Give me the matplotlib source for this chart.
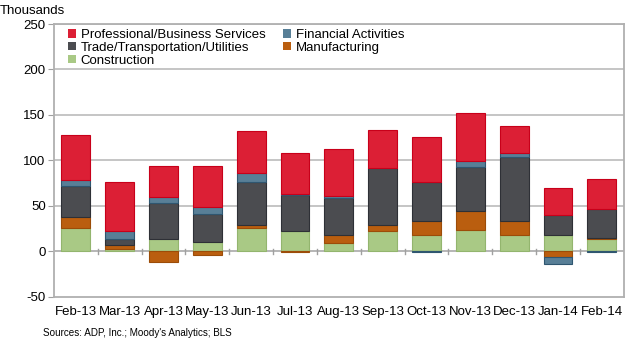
import numpy as np
import matplotlib.pyplot as plt
from matplotlib.patches import Patch

plt.rcParams['font.family'] = ['Liberation Sans', 'DejaVu Sans']

months = ["Feb-13", "Mar-13", "Apr-13", "May-13", "Jun-13", "Jul-13", "Aug-13",
          "Sep-13", "Oct-13", "Nov-13", "Dec-13", "Jan-14", "Feb-14"]

construction = [26, 3, 13, 10.6, 26, 22.3, 8.8, 22.3, 17.5, 23, 17.5, 18, 13.1]
manufacturing = [12, 4, -11.6, -4.4, 2.4, -1, 8.7, 7, 15.3, 21.5, 16, -6.2, 1.9]
trade = [34, 7, 40.5, 30.5, 48, 40, 41.5, 62.8, 43.5, 48.5, 70.7, 21.8, 31]
financial = [6.5, 8, 6.5, 8, 10, 1, 2, 0, -1, 6, 4, -7.6, -1]
professional = [49.5, 54, 33.5, 44.5, 45.6, 45, 52, 41.5, 49, 53.6, 30, 29.6, 33]

series = [
    ("Construction", construction, "#a9c985", "#93b56e"),
    ("Manufacturing", manufacturing, "#ba5e0f", "#9c4c08"),
    ("Trade/Transportation/Utilities", trade, "#4b4c50", "#2e3036"),
    ("Financial Activities", financial, "#587f97", "#2f5670"),
    ("Professional/Business Services", professional, "#dc1f35", "#c8001a"),
]

fig = plt.figure(figsize=(6.3, 3.43), dpi=100)
ax = fig.add_axes([0.0857, 0.135, 0.9043, 0.795])

x = np.arange(len(months))
pos = np.zeros(len(months))
neg = np.zeros(len(months))
handles = {}
for name, vals, col, edge in series:
    v = np.array(vals, dtype=float)
    bottom = np.where(v >= 0, pos, neg)
    ax.bar(x, v, width=0.66, bottom=bottom, color=col, edgecolor=edge,
           linewidth=0.8, zorder=3)
    pos = pos + np.where(v >= 0, v, 0)
    neg = neg + np.where(v < 0, v, 0)
    handles[name] = Patch(facecolor=col, edgecolor='none')

ax.set_xlim(-0.5, len(months) - 0.5)
ax.set_ylim(-50, 250)
ax.set_yticks(np.arange(-50, 251, 50))
ax.set_yticklabels([str(v) for v in range(-50, 251, 50)], fontsize=9.5)
for y in range(50, 251, 50):
    ax.axhline(y, color="#c0c0c0", linewidth=1.3, zorder=1)
ax.axhline(0, color="#b0b0b0", linewidth=1.3, zorder=2)

# category boundary ticks on the zero line
for b in np.arange(0.5, len(months) - 1, 1.0):
    ax.plot([b, b], [-3, 3], color="#a0a0a0", linewidth=1, zorder=2)

ax.set_xticks(x)
ax.set_xticklabels(months, fontsize=9.5)
ax.tick_params(axis='x', length=0, pad=7)
ax.tick_params(axis='y', length=4, color="#a0a0a0", pad=2)
for s in ax.spines.values():
    s.set_color("#b0b0b0")
    s.set_linewidth(1.3)

order = ["Professional/Business Services", "Trade/Transportation/Utilities",
         "Construction", "Financial Activities", "Manufacturing"]
ax.legend([handles[n] for n in order], order, ncol=2, loc="upper left",
          bbox_to_anchor=(0.01, 1.01), frameon=False, fontsize=9.5,
          handlelength=0.6, handleheight=0.6, handletextpad=0.4,
          labelspacing=0.05, columnspacing=1.3, borderaxespad=0.2)

fig.text(0.0, 0.985, "Thousands", fontsize=9.5, va="top", ha="left")
fig.text(0.068, 0.028, "Sources: ADP, Inc.; Moody's Analytics; BLS", fontsize=7.1,
         va="center", ha="left")

fig.savefig("out.png", dpi=100)
